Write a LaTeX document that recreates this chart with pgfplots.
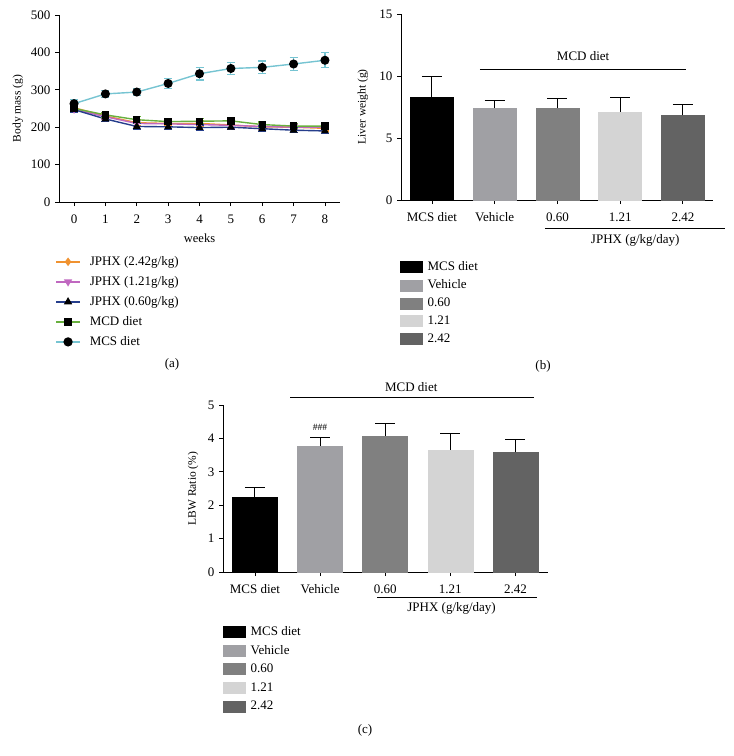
\documentclass[border=0pt]{standalone}
\usepackage{fontspec}
\setmainfont{Liberation Serif}
\usepackage{pgfplots}
\usepackage{pgfplotstable}
\pgfplotsset{compat=1.18}

\definecolor{cyanc}{RGB}{118,196,210}
\definecolor{greenc}{RGB}{104,176,62}
\definecolor{orangec}{RGB}{240,146,48}
\definecolor{pinkc}{RGB}{192,104,192}
\definecolor{bluec}{RGB}{38,62,140}
\definecolor{gVeh}{RGB}{160,160,164}
\definecolor{gLow}{RGB}{128,128,128}
\definecolor{gMid}{RGB}{212,212,212}
\definecolor{gHigh}{RGB}{99,99,99}

% body mass over 8 weeks, mean and sd
\pgfplotstableread{
week mcs mcse mcd mcde hi hie mid mide lo loe
0 263 12 250 8 252 8 248 8 247 8
1 289 10 233 7 230 7 228 7 222 7
2 294 10 220 8 212 8 210 8 202 8
3 317 14 215 7 210 7 209 7 201 7
4 343 17 216 7 210 8 207 8 199 7
5 357 17 217 7 206 9 205 9 200 7
6 360 17 207 7 201 7 202 7 196 7
7 369 17 203 7 200 7 200 7 192 7
8 379 20 203 7 197 7 200 7 190 7
}\bodymass

\newcommand\bigf{\fontsize{13}{15}\selectfont}
\newcommand\labf{\fontsize{11.5}{13}\selectfont}

\pgfplotsset{
  gp/.style={
    scale only axis,
    axis lines*=left,
    tick align=outside,
    major tick length=4pt,
    tick style={black, line width=0.8pt},
    axis line style={black, line width=0.9pt},
    font=\bigf,
    ticklabel style={font=\bigf},
    xticklabel style={yshift=-5pt},
    yticklabel style={xshift=-1pt},
    ylabel style={font=\labf},
    /pgf/number format/assume math mode=true,
    clip=false,
    legend cell align=left,
  },
  barax/.style={
    gp,
    xtick={0,1,2,3,4},
    xticklabels={MCS diet,Vehicle,0.60,1.21,2.42},
    xmin=-0.494, xmax=4.48,
    ymin=0,
    legend image code/.code={\fill[##1] (0pt,-5.5pt) rectangle (22pt,5.5pt);
      \path (25pt,0pt);},
  },
  onebar/.style={
    ybar, bar shift=0pt, draw=#1, fill=#1,
    error bars/y dir=plus, error bars/y explicit,
    error bars/error bar style={draw=black, line width=1pt},
    error bars/error mark options={draw=black, rotate=90, mark size=10pt, line width=1pt},
  },
  oneline/.style={
    color=#1, line width=1.4pt,
    error bars/y dir=both, error bars/y explicit,
    error bars/error bar style={draw=#1, line width=1.2pt},
    error bars/error mark options={draw=#1, rotate=90, mark size=4pt, line width=1.2pt},
  },
}

\begin{document}
\begin{tikzpicture}
\path[use as bounding box] (0,0) rectangle (734pt,-756pt);

% (a) body mass
\begin{axis}[gp,
  at={(59pt,-202pt)}, anchor=south west,
  width=281pt, height=187pt,
  xmin=-0.48, xmax=8.48, ymin=0, ymax=500,
  xtick={0,...,8}, ytick={0,100,...,500},
  xlabel={weeks}, ylabel={Body mass (g)},
  xlabel style={at={(axis description cs:0.5,-0.193)}, anchor=center,
    font=\fontsize{12.5}{14}\selectfont},
  ylabel style={at={(axis description cs:-0.146,0.5)}, anchor=center},
  legend style={at={(axis description cs:-0.014,-0.28)}, anchor=north west,
    draw=none, fill=none, inner sep=0pt, row sep=5.5pt,
    font=\bigf},
  legend image code/.code={\draw[mark repeat=2,mark phase=2,#1,line width=1.6pt]
    plot coordinates {(0pt,0pt) (12pt,0pt) (24pt,0pt)};
    \path (31pt,0pt);},
]
\addplot[oneline=orangec, mark=diamond*, mark size=3pt,
  mark options={fill=orangec, draw=orangec, solid}]
  table[x=week, y=hi, y error=hie] {\bodymass};
\addplot[oneline=pinkc, mark=triangle*, mark size=3.2pt,
  mark options={fill=pinkc, draw=pinkc, rotate=180}]
  table[x=week, y=mid, y error=mide] {\bodymass};
\addplot[oneline=bluec, mark=triangle*, mark size=3.2pt,
  mark options={fill=black, draw=black}]
  table[x=week, y=lo, y error=loe] {\bodymass};
\addplot[oneline=greenc, mark=square*, mark size=3pt,
  mark options={fill=black, draw=black}]
  table[x=week, y=mcd, y error=mcde] {\bodymass};
\addplot[oneline=cyanc, mark=*, mark size=3.8pt,
  mark options={fill=black, draw=black}]
  table[x=week, y=mcs, y error=mcse] {\bodymass};
\legend{JPHX (2.42g/kg), JPHX (1.21g/kg), JPHX (0.60g/kg), MCD diet, MCS diet}
\end{axis}

% (b) liver weight
\begin{axis}[barax,
  at={(401pt,-200pt)}, anchor=south west,
  width=312pt, height=186pt,
  ymax=15, ytick={0,5,10,15},
  ylabel={Liver weight (g)},
  ylabel style={at={(axis description cs:-0.122,0.5)}, anchor=center},
  legend style={at={(axis description cs:-0.003,-0.32)}, anchor=north west,
    draw=none, fill=none, inner sep=0pt, row sep=3.7pt,
    font=\bigf},
]
\addplot[onebar=black, bar width=43pt] coordinates {(0,8.33) +- (0,1.62)};
\addplot[onebar=gVeh, bar width=43pt] coordinates {(1,7.39) +- (0,0.67)};
\addplot[onebar=gLow, bar width=43pt] coordinates {(2,7.39) +- (0,0.78)};
\addplot[onebar=gMid, bar width=43pt] coordinates {(3,7.12) +- (0,1.13)};
\addplot[onebar=gHigh, bar width=43pt] coordinates {(4,6.83) +- (0,0.89)};
\legend{MCS diet, Vehicle, 0.60, 1.21, 2.42}
\draw[line width=0.9pt] (axis cs:0.765,10.56) -- (axis cs:4.05,10.56);
\node at (axis cs:2.41,11.6) {MCD diet};
\draw[line width=0.9pt] (axis cs:1.80,-2.26) -- (axis cs:4.67,-2.26);
\node at (axis cs:3.24,-3.23) {JPHX (g/kg/day)};
\end{axis}

% (c) liver to body weight ratio
\begin{axis}[barax,
  at={(223pt,-572pt)}, anchor=south west,
  width=325pt, height=167pt,
  xmin=-0.49, xmax=4.5,
  ymax=5, ytick={0,1,...,5},
  ylabel={LBW Ratio (\%)},
  ylabel style={at={(axis description cs:-0.092,0.5)}, anchor=center},
  legend style={at={(axis description cs:0,-0.31)}, anchor=north west,
    draw=none, fill=none, inner sep=0pt, row sep=4.5pt,
    font=\bigf},
]
\addplot[onebar=black, bar width=45pt] coordinates {(0,2.23) +- (0,0.29)};
\addplot[onebar=gVeh, bar width=45pt] coordinates {(1,3.78) +- (0,0.26)};
\addplot[onebar=gLow, bar width=45pt] coordinates {(2,4.08) +- (0,0.36)};
\addplot[onebar=gMid, bar width=45pt] coordinates {(3,3.66) +- (0,0.49)};
\addplot[onebar=gHigh, bar width=45pt] coordinates {(4,3.58) +- (0,0.38)};
\legend{MCS diet, Vehicle, 0.60, 1.21, 2.42}
\node[font=\fontsize{9.5}{10}\selectfont] at (axis cs:1,4.34) {\#\#\#};
\draw[line width=0.9pt] (axis cs:0.54,5.24) -- (axis cs:4.28,5.24);
\node at (axis cs:2.4,5.54) {MCD diet};
\draw[line width=0.9pt] (axis cs:1.88,-0.75) -- (axis cs:4.33,-0.75);
\node at (axis cs:3.02,-1.08) {JPHX (g/kg/day)};
\end{axis}

\node[font=\bigf] at (172pt,-364pt) {(a)};
\node[font=\bigf] at (543pt,-366pt) {(b)};
\node[font=\bigf] at (365pt,-730pt) {(c)};
\end{tikzpicture}
\end{document}
